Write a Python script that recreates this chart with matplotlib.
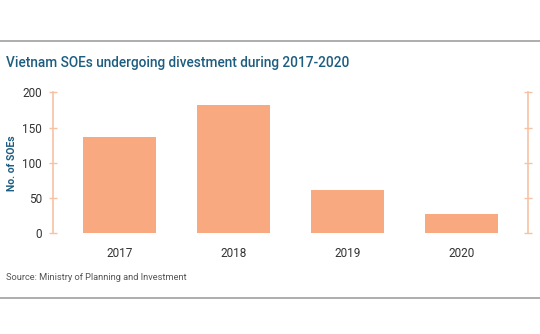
import matplotlib
matplotlib.use('Agg')
import matplotlib.pyplot as plt
from matplotlib.lines import Line2D

# Data
years = ['2017', '2018', '2019', '2020']
soes = [136, 182, 62, 28]

bar_color = '#f9a980'
axis_color = '#f7c2a3'
title_color = '#1d5d80'

plt.rcParams['font.family'] = ['Roboto', 'DejaVu Sans']

fig = plt.figure(figsize=(5.4, 3.34), dpi=100)
ax = fig.add_axes([0.098, 0.3015, 0.88, 0.4222])

ax.bar(range(len(years)), soes, width=0.64, color=bar_color)
ax.set_xlim(-0.58, 3.58)
ax.set_ylim(0, 200)
ax.set_yticks([0, 50, 100, 150, 200])
ax.set_xticks(range(len(years)))
ax.set_xticklabels(years)

for side in ['top', 'bottom']:
    ax.spines[side].set_visible(False)
for side in ['left', 'right']:
    ax.spines[side].set_color(axis_color)
    ax.spines[side].set_linewidth(1.2)

ax.tick_params(axis='y', which='both', direction='inout', length=6, width=1,
               color=axis_color, labelcolor='#333333', labelsize=8.5, pad=5,
               right=True)
ax.tick_params(axis='x', length=0, labelcolor='#333333', labelsize=8.5, pad=10)

# y axis label placed in figure coords so it stays inside the canvas
fig.text(12 / 540, 1 - 163 / 334, 'No. of SOEs', color=title_color,
         fontsize=7.5, fontweight='bold', rotation=90, ha='center', va='center')

fig.text(0.011, 0.811, 'Vietnam SOEs undergoing divestment during 2017-2020',
         color=title_color, fontsize=9.8, fontweight='medium', va='center')
fig.text(0.011, 0.168, 'Source: Ministry of Planning and Investment',
         color='#555555', fontsize=6.7, va='center')

# separator lines
for y in [1 - 41 / 334, 1 - 298 / 334]:
    fig.add_artist(Line2D([0, 1], [y, y], color='#a0a0a0', linewidth=1.2,
                          transform=fig.transFigure))

fig.savefig('out.png', dpi=100)
